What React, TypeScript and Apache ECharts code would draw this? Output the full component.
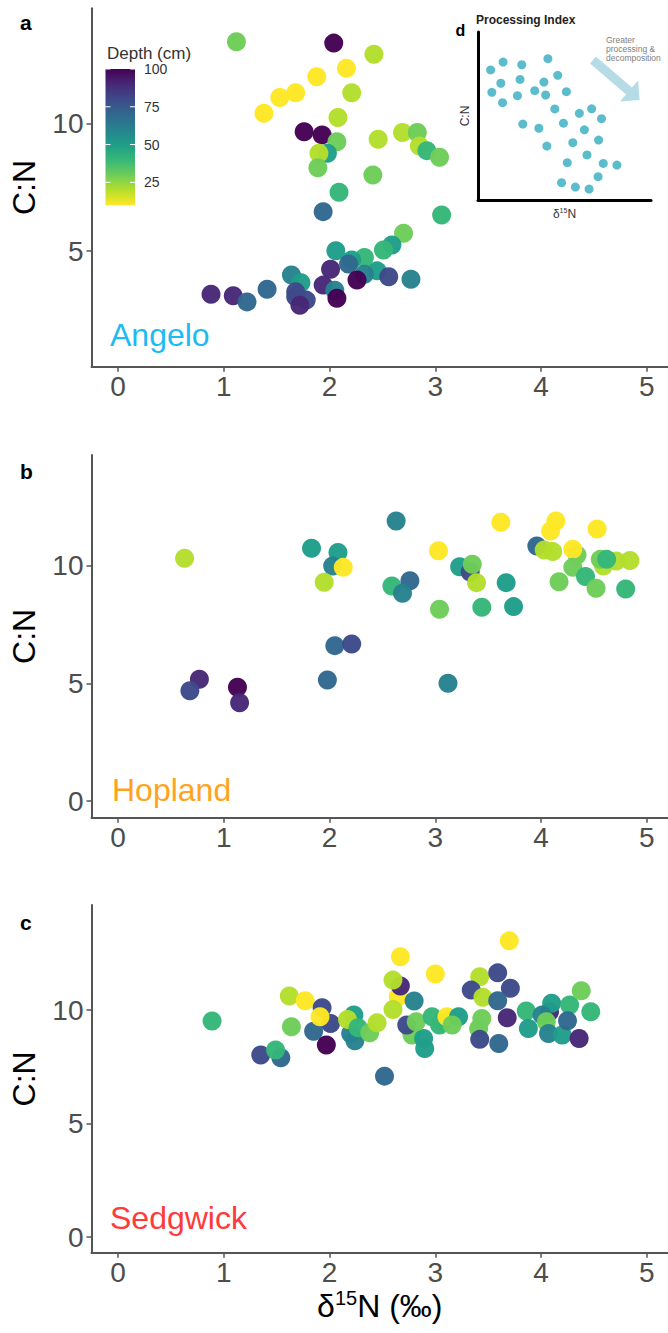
import React, { useEffect, useRef } from 'react';
import * as echarts from 'echarts';

const FONT = "'Liberation Sans', Arial, Helvetica, sans-serif";

// ---- tick labels ----
const xTicks = [0, 1, 2, 3, 4, 5];
const yTicksA = [5, 10];
const yTicksBC = [0, 5, 10];
const depthTicks = [25, 50, 75, 100];
const depthMin = 10;
const depthMax = 100;

// ---- panel a : Angelo ----
const angeloD15N = [1.12, 2.04, 2.42, 2.16, 1.88, 1.68, 1.53, 1.38, 2.21, 2.08, 1.76, 1.93, 2.07, 1.98, 1.90, 1.89, 2.46, 2.69, 2.83, 2.85, 2.92, 3.04, 2.41, 2.09, 1.94, 3.06, 2.70, 2.59, 2.51, 2.06, 2.33, 2.21, 2.18, 2.01, 2.45, 2.33, 2.26, 2.56, 2.77, 1.64, 1.73, 1.94, 2.05, 2.07, 1.41, 0.88, 1.09, 1.22, 1.68, 1.68, 1.78, 1.72];
const angeloCN = [13.23, 13.18, 12.74, 12.19, 11.86, 11.23, 11.04, 10.42, 11.23, 10.25, 9.69, 9.57, 9.30, 8.85, 8.85, 8.28, 9.40, 9.66, 9.66, 9.13, 8.95, 8.69, 7.99, 7.31, 6.55, 6.42, 5.70, 5.24, 5.04, 5.01, 4.75, 4.65, 4.49, 4.28, 4.22, 4.09, 3.86, 3.99, 3.89, 4.06, 3.75, 3.66, 3.46, 3.14, 3.50, 3.30, 3.24, 3.00, 3.40, 3.20, 3.07, 2.87];
const angeloDepth = [30, 100, 20, 10, 10, 10, 10, 10, 20, 20, 100, 100, 30, 50, 20, 30, 20, 20, 30, 20, 40, 30, 30, 40, 70, 40, 30, 50, 40, 50, 40, 50, 70, 90, 50, 60, 100, 80, 60, 60, 50, 90, 60, 100, 70, 90, 90, 70, 80, 80, 80, 90];

// ---- panel b : Hopland ----
const hoplandD15N = [0.63, 0.77, 0.68, 1.13, 1.15, 2.63, 1.83, 2.08, 2.03, 2.13, 1.95, 2.59, 2.76, 2.69, 3.03, 3.62, 3.23, 3.33, 3.35, 3.39, 3.04, 3.44, 3.67, 3.74, 3.12, 2.05, 2.21, 1.98, 3.96, 4.14, 4.09, 4.03, 4.11, 4.34, 4.30, 4.30, 4.53, 4.17, 4.42, 4.52, 4.59, 4.71, 4.84, 4.56, 4.62, 4.80];
const hoplandCN = [10.33, 5.18, 4.69, 4.84, 4.18, 11.91, 10.75, 10.57, 10.00, 9.94, 9.31, 9.15, 9.37, 8.84, 10.65, 11.86, 9.97, 9.74, 10.07, 9.29, 8.16, 8.24, 9.29, 8.27, 5.01, 6.61, 6.68, 5.15, 10.85, 11.91, 11.49, 10.68, 10.61, 10.47, 10.71, 9.94, 11.57, 9.33, 9.55, 9.05, 10.00, 10.21, 10.23, 10.28, 10.28, 9.02];
const hoplandDepth = [20, 90, 80, 100, 90, 60, 50, 50, 60, 10, 20, 40, 70, 60, 10, 10, 50, 80, 30, 20, 30, 40, 50, 50, 60, 70, 80, 70, 70, 10, 10, 20, 20, 30, 10, 30, 10, 30, 40, 30, 20, 20, 20, 30, 40, 40];

// ---- panel c : Sedgwick ----
const sedgwickD15N = [0.89, 1.62, 1.77, 1.64, 1.35, 1.54, 1.49, 1.93, 2.01, 1.85, 1.91, 1.97, 2.20, 2.24, 2.23, 2.17, 2.27, 2.38, 2.45, 2.52, 2.67, 2.65, 2.67, 2.60, 2.60, 2.80, 3.00, 2.78, 2.90, 2.89, 2.73, 2.82, 2.97, 3.06, 3.04, 3.11, 3.22, 3.16, 3.70, 3.42, 3.59, 3.34, 3.45, 3.71, 3.59, 3.68, 3.44, 3.41, 3.42, 3.60, 3.86, 3.88, 4.08, 4.10, 4.01, 4.05, 4.07, 4.20, 4.27, 4.25, 4.38, 4.47, 4.36];
const sedgwickCN = [9.52, 10.62, 10.41, 9.27, 8.02, 7.90, 8.24, 10.10, 9.41, 9.07, 9.71, 8.46, 8.97, 8.65, 9.78, 9.59, 9.22, 9.00, 9.44, 7.09, 12.35, 10.59, 11.06, 11.32, 10.03, 10.40, 11.59, 8.90, 8.31, 8.75, 9.34, 9.49, 9.71, 9.48, 9.34, 9.71, 9.71, 9.34, 13.05, 11.47, 11.64, 10.88, 10.56, 10.96, 10.41, 9.66, 9.63, 9.19, 8.71, 8.53, 9.96, 9.19, 9.93, 10.30, 9.78, 9.49, 8.97, 8.90, 10.22, 9.53, 10.85, 9.93, 8.75];
const sedgwickDepth = [40, 20, 10, 30, 80, 70, 40, 80, 80, 70, 10, 100, 60, 60, 50, 20, 40, 30, 20, 70, 10, 10, 90, 20, 20, 60, 10, 30, 50, 50, 80, 30, 40, 40, 40, 10, 50, 30, 10, 20, 80, 80, 20, 80, 70, 90, 30, 30, 80, 70, 40, 50, 90, 50, 60, 30, 60, 50, 40, 70, 30, 40, 90];

// ---- inset d : schematic (arbitrary units 0-10) ----
const insetX = [0.73, 1.45, 2.53, 4.04, 1.32, 2.43, 3.81, 4.61, 0.80, 2.28, 3.28, 3.91, 5.11, 1.42, 4.44, 5.86, 6.57, 7.14, 2.59, 3.52, 4.94, 6.15, 3.98, 5.48, 6.97, 6.30, 5.16, 7.24, 8.03, 6.94, 4.83, 5.63, 6.42];
const insetY = [7.74, 8.21, 8.05, 8.41, 6.95, 7.18, 7.02, 7.42, 6.41, 6.21, 6.51, 6.25, 6.45, 5.79, 5.42, 5.16, 5.43, 4.84, 4.52, 4.27, 4.57, 4.18, 3.21, 3.41, 3.57, 2.68, 2.22, 2.18, 2.08, 1.39, 1.03, 0.77, 0.65];

const siteNames = ['Angelo', 'Hopland', 'Sedgwick'];
const siteColors = ['#1EBBF3', '#FFA31C', '#FF3A3A'];
const panelLetters = ['a', 'b', 'c'];

const viridis = ['#440154', '#482878', '#3E4A89', '#31688E', '#26828E', '#1F9E89', '#35B779', '#6DCD59', '#B4DE2C', '#FDE725'];

function pts(x: number[], y: number[], d: number[]) {
  return x.map((v, i) => [v, y[i], d[i]]);
}

export default function App() {
  const ref = useRef<HTMLDivElement>(null);
  useEffect(() => {
    document.body.style.margin = '0';
    if (!ref.current) return;
    const chart = echarts.init(ref.current, null, { renderer: 'svg' });

    const plotLeft = 91.5;
    const plotW = 576.5;
    const grids = [
      { left: plotLeft, top: 8.3, width: plotW, height: 358.4 },
      { left: plotLeft, top: 455, width: plotW, height: 362.7 },
      { left: plotLeft, top: 905, width: plotW, height: 347.7 },
      { left: 478, top: 32, width: 173, height: 168 },
    ].map((g) => ({ ...g, containLabel: false, outerBoundsMode: 'none' }));

    const yRanges = [
      [0.45, 14.55],
      [-0.71, 14.72],
      [-0.69, 14.63],
    ];
    const axisCol = '#555555';
    const tickLabelCol = '#4D4D4D';

    const xAxes: any[] = [0, 1, 2].map((i) => ({
      type: 'value',
      gridIndex: i,
      min: -0.25,
      max: 5.2,
      splitLine: { show: false },
      axisLine: { show: true, onZero: false, lineStyle: { color: axisCol, width: 2 } },
      axisTick: { show: true, length: 5, customValues: xTicks, lineStyle: { color: axisCol, width: 1.5 } },
      axisLabel: { customValues: xTicks, fontSize: 28, color: tickLabelCol, fontFamily: FONT, margin: 6 },
      ...(i === 2
        ? {
            name: '{d|δ}{s|15}{d|N (‰)}',
            nameLocation: 'middle',
            nameGap: 33,
            nameTextStyle: {
              rich: {
                d: { fontSize: 32, fontFamily: FONT, color: '#000', lineHeight: 36 },
                s: { fontSize: 20, fontFamily: FONT, color: '#000', lineHeight: 21, verticalAlign: 'top' },
              },
            },
          }
        : {}),
    }));
    xAxes.push({
      type: 'value',
      gridIndex: 3,
      min: 0,
      max: 10,
      splitLine: { show: false },
      axisLine: { show: true, onZero: false, lineStyle: { color: '#000', width: 3 } },
      axisTick: { show: false },
      axisLabel: { show: false },
      name: '{d|δ}{s|15}{d|N}',
      nameLocation: 'middle',
      nameGap: 7,
      nameTextStyle: {
        rich: {
          d: { fontSize: 12, fontFamily: FONT, color: '#333', lineHeight: 14 },
          s: { fontSize: 7, fontFamily: FONT, color: '#333', lineHeight: 8, verticalAlign: 'top' },
        },
      },
    });

    const yAxes: any[] = [0, 1, 2].map((i) => ({
      type: 'value',
      gridIndex: i,
      min: yRanges[i][0],
      max: yRanges[i][1],
      splitLine: { show: false },
      axisLine: { show: true, onZero: false, lineStyle: { color: axisCol, width: 2 } },
      axisTick: { show: true, length: 5, customValues: i === 0 ? yTicksA : yTicksBC, lineStyle: { color: axisCol, width: 1.5 } },
      axisLabel: { customValues: i === 0 ? yTicksA : yTicksBC, fontSize: 28, color: tickLabelCol, fontFamily: FONT, margin: 8 },
      name: 'C:N',
      nameLocation: 'middle',
      nameRotate: 90,
      nameGap: 52,
      nameTextStyle: { fontSize: 32, color: '#000', fontFamily: FONT },
    }));
    yAxes.push({
      type: 'value',
      gridIndex: 3,
      min: 0,
      max: 10,
      splitLine: { show: false },
      axisLine: { show: true, onZero: false, lineStyle: { color: '#000', width: 3 } },
      axisTick: { show: false },
      axisLabel: { show: false },
      name: 'C:N',
      nameLocation: 'middle',
      nameRotate: 90,
      nameGap: 7,
      nameTextStyle: { fontSize: 12, color: '#333', fontFamily: FONT },
    });

    const siteData = [
      pts(angeloD15N, angeloCN, angeloDepth),
      pts(hoplandD15N, hoplandCN, hoplandDepth),
      pts(sedgwickD15N, sedgwickCN, sedgwickDepth),
    ];

    const series: any[] = siteData.map((data, i) => ({
      type: 'scatter',
      name: siteNames[i],
      xAxisIndex: i,
      yAxisIndex: i,
      symbolSize: 19,
      data,
      itemStyle: { opacity: 0.97 },
      z: 2,
    }));
    series.push({
      type: 'scatter',
      xAxisIndex: 3,
      yAxisIndex: 3,
      symbolSize: 9,
      data: insetX.map((v, i) => [v, insetY[i]]),
      itemStyle: { color: '#5BBCCB', opacity: 1 },
      z: 3,
    });

    // colour bar
    const barX = 105.5;
    const barY = 69;
    const barW = 29.5;
    const barH = 136;
    const depthToY = (d: number) => barY + ((depthMax - d) / (depthMax - depthMin)) * barH;
    const gradStops = viridis.map((c, i) => ({ offset: i / (viridis.length - 1), color: c }));

    const graphic: any[] = [
      {
        type: 'rect',
        shape: { x: barX, y: barY, width: barW, height: barH },
        style: { fill: new echarts.graphic.LinearGradient(0, 0, 0, 1, gradStops) },
        z: 10,
      },
      {
        type: 'text',
        x: 107,
        y: 53,
        style: { text: 'Depth (cm)', fontSize: 17, fontFamily: FONT, fill: '#333', textVerticalAlign: 'middle' },
        z: 10,
      },
    ];
    depthTicks.forEach((d) => {
      const y = depthToY(d);
      graphic.push({
        type: 'line',
        shape: { x1: barX, y1: y, x2: barX + 5, y2: y },
        style: { stroke: '#fff', lineWidth: 1 },
        z: 11,
      });
      graphic.push({
        type: 'line',
        shape: { x1: barX + barW - 5, y1: y, x2: barX + barW, y2: y },
        style: { stroke: '#fff', lineWidth: 1 },
        z: 11,
      });
      graphic.push({
        type: 'text',
        x: 144,
        y,
        style: { text: String(d), fontSize: 14, fontFamily: FONT, fill: '#333', textVerticalAlign: 'middle' },
        z: 10,
      });
    });

    // panel letters and site names
    const letterY = [22, 471, 922];
    const siteY = [335, 790, 1218];
    const siteX = [110, 112, 110];
    panelLetters.forEach((l, i) => {
      graphic.push({
        type: 'text',
        x: 20,
        y: letterY[i],
        style: { text: l, fontSize: 21, fontWeight: 'bold', fontFamily: FONT, fill: '#000', textVerticalAlign: 'middle' },
        z: 10,
      });
      graphic.push({
        type: 'text',
        x: siteX[i],
        y: siteY[i],
        style: { text: siteNames[i], fontSize: 32, fontFamily: FONT, fill: siteColors[i], textVerticalAlign: 'middle' },
        z: 10,
      });
    });

    // inset decorations
    graphic.push(
      {
        type: 'text',
        x: 476,
        y: 20,
        style: { text: 'Processing Index', fontSize: 12, fontWeight: 'bold', fontFamily: FONT, fill: '#222', textVerticalAlign: 'middle' },
        z: 10,
      },
      {
        type: 'text',
        x: 455.5,
        y: 30,
        style: { text: 'd', fontSize: 16, fontWeight: 'bold', fontFamily: FONT, fill: '#000', textVerticalAlign: 'middle' },
        z: 10,
      },
      {
        type: 'text',
        x: 606,
        y: 48.5,
        style: {
          text: 'Greater\nprocessing &\ndecomposition',
          fontSize: 8.5,
          lineHeight: 9,
          fontFamily: FONT,
          fill: '#808080',
          textVerticalAlign: 'middle',
        },
        z: 10,
      },
      {
        type: 'polygon',
        shape: {
          points: [
            [590.1, 63.4],
            [595.9, 56.6],
            [631.9, 87.6],
            [638.1, 80.4],
            [639.6, 100.1],
            [619.9, 101.6],
            [626.1, 94.4],
          ],
        },
        style: { fill: '#B5DCE6' },
        z: 9,
      }
    );

    chart.setOption({
      animation: false,
      backgroundColor: '#fff',
      grid: grids,
      xAxis: xAxes,
      yAxis: yAxes,
      visualMap: {
        type: 'continuous',
        show: false,
        min: depthMin,
        max: depthMax,
        dimension: 2,
        seriesIndex: [0, 1, 2],
        inRange: { color: [...viridis].reverse() },
      },
      series,
      graphic,
    });

    return () => chart.dispose();
  }, []);

  return <div ref={ref} style={{ width: 668, height: 1333 }} />;
}
